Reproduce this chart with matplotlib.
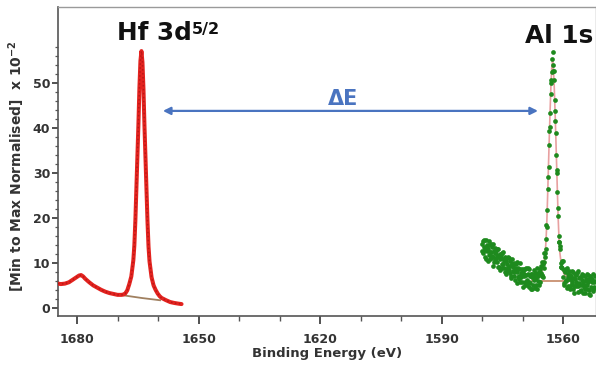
import numpy as np
import matplotlib.pyplot as plt
from matplotlib.ticker import FixedLocator, MultipleLocator

plt.rcParams['font.family'] = ['DejaVu Sans']
plt.rcParams['font.weight'] = 'bold'
plt.rcParams['axes.labelweight'] = 'bold'
plt.rcParams['mathtext.fontset'] = 'custom'
plt.rcParams['mathtext.rm'] = 'DejaVu Sans:bold'
plt.rcParams['mathtext.it'] = 'DejaVu Sans:bold'
plt.rcParams['mathtext.bf'] = 'DejaVu Sans:bold'

# Hf 3d region (red)
hf_energy = [1684.7, 1684.0, 1683.0, 1682.0, 1681.0, 1680.0,
             1679.5, 1679.0, 1678.5, 1678.0,
             1677.0, 1676.0, 1675.0, 1674.0, 1673.0, 1672.0, 1671.0, 1670.0,
             1669.0, 1668.5, 1668.1, 1667.6, 1667.1, 1666.6, 1666.1,
             1665.85, 1665.6, 1665.35, 1665.1, 1664.85, 1664.6, 1664.35, 1664.1,
             1663.85, 1663.6, 1663.35, 1663.1, 1662.85, 1662.6, 1662.35, 1662.1,
             1661.6, 1661.1, 1660.6, 1660.1, 1659.6, 1659.1,
             1658.0, 1657.0, 1656.0, 1655.0, 1654.2]
hf_counts = [5.4, 5.3, 5.4, 5.7, 6.3, 6.9,
             7.2, 7.3, 7.0, 6.5,
             5.7, 5.0, 4.5, 4.0, 3.6, 3.3, 3.1, 2.9,
             2.9, 3.0, 3.2, 3.9, 5.3, 7.0, 10.6,
             13.9, 19.4, 26.5, 33.6, 40.7, 48.9, 54.9, 57.1,
             54.6, 48.6, 40.4, 33.3, 26.2, 19.1, 13.6, 10.3,
             6.8, 5.0, 4.0, 3.2, 2.6, 2.2,
             1.7, 1.3, 1.1, 0.95, 0.85]
hf_bg_energy = [1668.6, 1664.0, 1659.5]
hf_bg_counts = [2.8, 2.2, 1.7]

# Al 1s region (green): two interleaved passes, 0.2 eV steps
al_start_a, al_start_b, al_step = 1580.0, 1579.9, 0.2
al_counts_a = [14.3, 12.2, 15.2, 12.8, 13.4, 10.9, 13.9, 13.2, 11.7, 14.8,
               10.8, 12.5, 13.5, 11.3, 9.4, 12.6, 13.3, 11.1, 10.2, 11.7,
               13.0, 9.1, 10.8, 11.8, 9.8, 8.9, 12.4, 10.4, 7.9, 10.4,
               11.1, 8.7, 9.1, 11.0, 7.8, 9.3, 6.6, 9.7, 9.2, 7.9,
               9.9, 6.3, 8.1, 10.1, 6.9, 8.6, 7.2, 5.8, 8.7, 7.5,
               4.7, 8.2, 7.5, 5.8, 8.8, 6.2, 5.2, 7.5, 8.6, 5.6,
               4.1, 6.8, 7.5, 5.2, 6.9, 4.4, 7.7, 6.6, 4.3, 7.5,
               8.0, 5.8, 7.8, 9.4, 7.4, 6.9, 10.3, 12.1, 11.3, 15.4,
               18.0, 26.4, 31.4, 39.4, 43.4, 49.9, 52.4, 56.8, 52.6, 50.6,
               43.7, 38.9, 30.7, 25.8, 20.5, 14.6, 13.7, 9.2, 9.9, 10.5,
               6.9, 5.1, 7.9, 8.6, 5.9, 8.9, 4.8, 6.5, 7.3, 4.2,
               7.0, 5.8, 8.0, 4.8, 3.3, 6.5, 7.3, 5.3, 8.2, 4.9,
               5.6, 3.7, 6.8, 6.2, 3.4, 7.3, 5.0, 4.1, 6.4, 7.5,
               4.3, 5.8, 3.0, 7.0, 6.2, 4.7, 6.5, 3.8, 5.8, 7.2, 4.5]
al_counts_b = [12.6, 14.9, 13.5, 11.3, 15.1, 12.7, 13.7, 10.4, 13.9, 12.5,
               14.1, 11.1, 11.6, 14.3, 10.3, 12.2, 10.7, 12.6, 13.2, 9.2,
               11.3, 11.9, 8.5, 11.2, 12.3, 9.8, 8.8, 10.8, 11.4, 7.6,
               9.7, 11.4, 8.3, 8.5, 10.4, 7.2, 9.7, 10.8, 8.2, 7.0,
               8.8, 9.8, 5.6, 8.0, 8.8, 6.5, 9.9, 6.8, 7.7, 5.7,
               8.7, 7.0, 5.0, 8.7, 7.4, 5.5, 8.8, 5.8, 4.6, 7.1,
               7.6, 4.1, 7.2, 8.4, 6.2, 7.7, 5.2, 8.9, 7.2, 5.9,
               5.0, 8.7, 7.8, 7.0, 10.1, 9.8, 8.9, 12.3, 13.1, 18.4,
               21.8, 29.2, 36.2, 40.3, 47.5, 50.6, 55.3, 54.0, 52.7, 46.2,
               41.6, 34.1, 29.9, 22.2, 15.9, 14.6, 13.0, 9.0, 8.8, 10.4,
               8.4, 5.6, 8.4, 6.3, 4.4, 7.6, 6.9, 8.3, 4.9, 6.4,
               5.3, 8.3, 4.1, 6.7, 7.5, 4.9, 5.7, 7.7, 3.5, 6.7,
               6.9, 5.0, 3.9, 7.6, 5.7, 4.6, 7.1, 3.3, 6.0, 5.1,
               7.4, 4.0, 6.4, 2.9, 6.7, 5.8, 4.1, 7.6, 4.6, 6.0]
al_energy_a = al_start_a - al_step * np.arange(len(al_counts_a))
al_energy_b = al_start_b - al_step * np.arange(len(al_counts_b))

al_fit_energy = [1567.6, 1566.6, 1565.8, 1565.4, 1565.0, 1564.6, 1564.4, 1564.2,
                 1564.0, 1563.8, 1563.6, 1563.4, 1563.2, 1563.0, 1562.8, 1562.6,
                 1562.4, 1562.2, 1562.0, 1561.8, 1561.6, 1561.4, 1561.2, 1561.0,
                 1560.8, 1560.6, 1560.2, 1559.8, 1559.4, 1558.6, 1557.6]
al_fit_counts = [6.3, 6.7, 7.2, 7.7, 8.8, 10.8, 12.3, 15.2,
                 19.6, 25.5, 31.9, 38.2, 44.1, 49.5, 53.4, 54.9,
                 53.4, 49.5, 44.1, 38.2, 31.9, 25.5, 19.6, 15.2,
                 12.3, 10.8, 8.7, 7.6, 7.1, 6.6, 6.2]
al_bg_energy = [1567.7, 1558.3]
al_bg_counts = [5.9, 5.9]

x_ticks = [1680, 1650, 1620, 1590, 1560]
y_ticks = [0, 10, 20, 30, 40, 50]

fig = plt.figure(figsize=(5.96, 3.71), dpi=100)
ax = fig.add_axes([58 / 596, 1 - 316 / 371, 537.5 / 596, 309 / 371])

ax.plot(hf_energy, hf_counts, color='#e3231f', lw=2.9, solid_capstyle='round', zorder=3)
ax.plot(hf_energy, hf_counts, color='#a01010', lw=1.1, ls=(0, (1, 1.6)), alpha=0.6, zorder=4)
ax.plot(hf_bg_energy, hf_bg_counts, color='#a08060', lw=1.3, zorder=2)

ax.plot(al_fit_energy, al_fit_counts, color='#e8a0a0', lw=1.2, zorder=2)
ax.plot(al_bg_energy, al_bg_counts, color='#c89070', lw=1.3, zorder=2)
ax.plot(al_energy_a, al_counts_a, 'o', color='#1e8a1e', ms=3.4, mew=0, zorder=3)
ax.plot(al_energy_b, al_counts_b, 'o', color='#1e8a1e', ms=3.4, mew=0, zorder=3)

ax.set_xlim(1684.7, 1552.0)
ax.set_ylim(-1.8, 66.9)
ax.set_xticks(x_ticks)
ax.xaxis.set_minor_locator(MultipleLocator(10))
ax.set_yticks(y_ticks)
ax.yaxis.set_minor_locator(FixedLocator(np.arange(0, 59, 2)))

ax.tick_params(axis='x', which='major', length=6, width=1.2, pad=6, labelsize=9, colors='#333333')
ax.tick_params(axis='x', which='minor', length=3.5, width=1.0, colors='#555555')
ax.tick_params(axis='y', which='major', length=4, width=1.2, pad=1.5, labelsize=9, colors='#333333')
ax.tick_params(axis='y', which='minor', length=2.5, width=0.9, colors='#555555')

for side in ['left', 'bottom']:
    ax.spines[side].set_color('#555555')
    ax.spines[side].set_linewidth(1.2)
for side in ['top', 'right']:
    ax.spines[side].set_color('#9a9a9a')
    ax.spines[side].set_linewidth(1.0)

ax.set_xlabel('Binding Energy (eV)', fontsize=9.5, color='#333333')
ax.xaxis.set_label_coords(0.5, -0.10)
ax.set_ylabel('[Min to Max Normalised]  x 10$^{-2}$', fontsize=10, color='#333333')
ax.yaxis.set_label_coords(-0.058, 0.485)

ax.text(1670.1, 59.6, 'Hf 3d', fontsize=17.8,
        color='#111111', va='baseline', ha='left')
ax.text(1651.7, 60.8, '5/2', fontsize=11.5,
        color='#111111', va='baseline', ha='left')
ax.text(1569.4, 58.9, 'Al 1s', fontsize=17.8,
        color='#111111', va='baseline', ha='left', clip_on=False)

ax.annotate('', xy=(1566.2, 43.8), xytext=(1658.8, 43.8),
            arrowprops=dict(arrowstyle='<|-|>', color='#4a74c0', lw=1.6,
                            mutation_scale=11, shrinkA=0, shrinkB=0))
ax.text(1614.3, 45.1, 'ΔE', fontsize=15, color='#4a74c0', ha='center', va='baseline')

fig.savefig('out.png', dpi=100)
